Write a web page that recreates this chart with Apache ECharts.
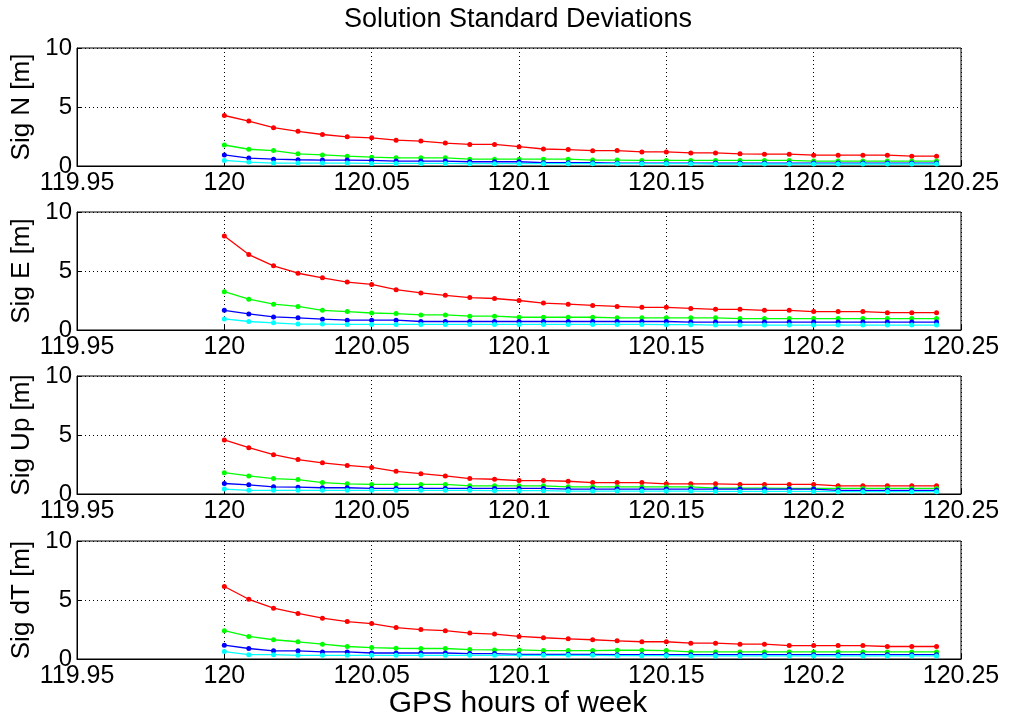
<!DOCTYPE html>
<html>
<head>
<meta charset="utf-8">
<script src="https://cdn.jsdelivr.net/npm/echarts@6/dist/echarts.min.js"></script>
<style>
  html, body { margin: 0; padding: 0; background: #fff; }
  #chart { width: 1009px; height: 721px; }
</style>
</head>
<body>
<div id="chart"></div>
<script>
// GPS hours of week (one epoch every 30 s)
const hours = [120, 120.0083, 120.0167, 120.025, 120.0333, 120.0417, 120.05, 120.0583, 120.0667, 120.075,
  120.0833, 120.0917, 120.1, 120.1083, 120.1167, 120.125, 120.1333, 120.1417, 120.15, 120.1583,
  120.1667, 120.175, 120.1833, 120.1917, 120.2, 120.2083, 120.2167, 120.225, 120.2333, 120.2417]

const panelNames = ['Sig N [m]', 'Sig E [m]', 'Sig Up [m]', 'Sig dT [m]']

// Sig N
const nRed = [4.28, 3.81, 3.25, 2.94, 2.67, 2.47, 2.39, 2.19, 2.11, 1.94, 1.83, 1.83, 1.64, 1.44, 1.39, 1.3, 1.31, 1.19, 1.19, 1.11, 1.11, 1.03, 1.0, 1.0, 0.92, 0.92, 0.92, 0.92, 0.83, 0.83]
const nGreen = [1.78, 1.42, 1.31, 1.03, 0.94, 0.83, 0.75, 0.69, 0.69, 0.69, 0.58, 0.58, 0.58, 0.58, 0.58, 0.5, 0.5, 0.47, 0.47, 0.47, 0.47, 0.47, 0.47, 0.47, 0.42, 0.42, 0.42, 0.42, 0.42, 0.42]
const nBlue = [0.94, 0.67, 0.58, 0.53, 0.5, 0.5, 0.47, 0.42, 0.42, 0.42, 0.36, 0.36, 0.36, 0.28, 0.28, 0.28, 0.25, 0.25, 0.25, 0.25, 0.25, 0.25, 0.25, 0.25, 0.25, 0.25, 0.25, 0.25, 0.25, 0.25]
const nCyan = [0.47, 0.33, 0.25, 0.25, 0.25, 0.25, 0.22, 0.22, 0.22, 0.22, 0.2, 0.2, 0.2, 0.2, 0.2, 0.2, 0.2, 0.2, 0.2, 0.2, 0.17, 0.17, 0.17, 0.17, 0.17, 0.17, 0.17, 0.17, 0.17, 0.17]

// Sig E
const eRed = [7.97, 6.39, 5.44, 4.81, 4.42, 4.06, 3.86, 3.42, 3.14, 2.94, 2.75, 2.67, 2.5, 2.28, 2.19, 2.08, 2.0, 1.92, 1.92, 1.83, 1.75, 1.75, 1.67, 1.67, 1.56, 1.56, 1.56, 1.47, 1.47, 1.47]
const eGreen = [3.25, 2.61, 2.19, 2.0, 1.67, 1.56, 1.44, 1.39, 1.28, 1.28, 1.17, 1.17, 1.08, 1.08, 1.08, 1.08, 1.03, 1.03, 1.03, 1.03, 1.03, 0.97, 0.97, 0.97, 0.97, 0.97, 0.97, 0.97, 0.97, 0.97]
const eBlue = [1.67, 1.36, 1.11, 1.03, 0.92, 0.83, 0.83, 0.83, 0.72, 0.72, 0.72, 0.72, 0.72, 0.72, 0.72, 0.72, 0.72, 0.72, 0.72, 0.67, 0.67, 0.67, 0.67, 0.67, 0.67, 0.67, 0.67, 0.67, 0.67, 0.67]
const eCyan = [0.94, 0.72, 0.61, 0.5, 0.5, 0.47, 0.47, 0.47, 0.47, 0.47, 0.47, 0.47, 0.47, 0.47, 0.47, 0.47, 0.47, 0.47, 0.45, 0.45, 0.42, 0.42, 0.42, 0.42, 0.42, 0.42, 0.42, 0.42, 0.42, 0.42]

// Sig Up
const uRed = [4.58, 3.92, 3.33, 2.92, 2.64, 2.42, 2.25, 1.92, 1.72, 1.53, 1.31, 1.25, 1.14, 1.14, 1.08, 0.97, 0.97, 0.97, 0.86, 0.86, 0.86, 0.81, 0.81, 0.81, 0.81, 0.69, 0.69, 0.69, 0.69, 0.69]
const uGreen = [1.81, 1.53, 1.31, 1.22, 0.97, 0.86, 0.81, 0.81, 0.81, 0.81, 0.69, 0.69, 0.69, 0.69, 0.61, 0.61, 0.6, 0.6, 0.6, 0.6, 0.5, 0.5, 0.5, 0.47, 0.47, 0.47, 0.47, 0.47, 0.47, 0.47]
const uBlue = [0.89, 0.78, 0.61, 0.58, 0.53, 0.53, 0.47, 0.47, 0.47, 0.47, 0.47, 0.47, 0.47, 0.47, 0.42, 0.42, 0.42, 0.42, 0.42, 0.42, 0.42, 0.42, 0.42, 0.42, 0.42, 0.31, 0.31, 0.31, 0.31, 0.31]
const uCyan = [0.42, 0.31, 0.31, 0.31, 0.31, 0.31, 0.31, 0.31, 0.31, 0.31, 0.31, 0.28, 0.28, 0.28, 0.25, 0.25, 0.25, 0.25, 0.25, 0.25, 0.22, 0.22, 0.22, 0.22, 0.22, 0.2, 0.2, 0.2, 0.2, 0.2]

// Sig dT
const dRed = [6.14, 5.06, 4.31, 3.86, 3.46, 3.17, 3.0, 2.66, 2.49, 2.4, 2.2, 2.11, 1.91, 1.8, 1.71, 1.63, 1.54, 1.46, 1.46, 1.34, 1.34, 1.26, 1.26, 1.14, 1.14, 1.14, 1.14, 1.06, 1.06, 1.06]
const dGreen = [2.4, 1.91, 1.63, 1.46, 1.26, 1.06, 0.97, 0.91, 0.89, 0.89, 0.8, 0.77, 0.77, 0.71, 0.71, 0.71, 0.74, 0.74, 0.71, 0.6, 0.6, 0.6, 0.6, 0.6, 0.6, 0.6, 0.6, 0.6, 0.6, 0.6]
const dBlue = [1.17, 0.89, 0.69, 0.69, 0.6, 0.6, 0.51, 0.51, 0.51, 0.51, 0.46, 0.46, 0.4, 0.4, 0.4, 0.4, 0.37, 0.37, 0.37, 0.37, 0.37, 0.37, 0.37, 0.37, 0.37, 0.37, 0.37, 0.37, 0.37, 0.37]
const dCyan = [0.63, 0.37, 0.37, 0.31, 0.31, 0.31, 0.31, 0.31, 0.31, 0.31, 0.31, 0.31, 0.31, 0.31, 0.31, 0.31, 0.28, 0.28, 0.28, 0.26, 0.26, 0.26, 0.26, 0.26, 0.26, 0.26, 0.26, 0.26, 0.26, 0.26]

const panels = [
  [nRed, nGreen, nBlue, nCyan],
  [eRed, eGreen, eBlue, eCyan],
  [uRed, uGreen, uBlue, uCyan],
  [dRed, dGreen, dBlue, dCyan]
]
const colors = ['#ff0000', '#00ff00', '#0000ff', '#00ffff']

const font = 'Liberation Sans, Arial, sans-serif'
const gridTops = [48, 212, 376, 541]

const chartInstance = echarts.init(document.getElementById('chart'))

const grids = []
const xAxes = []
const yAxes = []
const series = []

panels.forEach((lines, i) => {
  grids.push({
    left: 77,
    right: 48,
    top: gridTops[i],
    height: 118,
    show: true,
    borderColor: '#000',
    borderWidth: 1
  })
  xAxes.push({
    gridIndex: i,
    type: 'value',
    min: 119.95,
    max: 120.25,
    interval: 0.05,
    axisLine: { onZero: false, lineStyle: { color: '#000', width: 1 } },
    axisTick: { inside: true, length: 5, lineStyle: { color: '#000' } },
    axisLabel: {
      color: '#000',
      fontSize: 25,
      fontFamily: font,
      margin: 5,
      formatter: v => String(parseFloat(v.toFixed(2)))
    },
    splitLine: { show: true, lineStyle: { type: [1, 3], color: '#000', width: 1 } }
  })
  yAxes.push({
    gridIndex: i,
    type: 'value',
    min: 0,
    max: 10,
    interval: 5,
    name: panelNames[i],
    nameLocation: 'middle',
    nameGap: 38,
    nameTextStyle: { color: '#000', fontSize: 26, fontFamily: font },
    axisLine: { show: true, lineStyle: { color: '#000', width: 1 } },
    axisTick: { show: true, inside: true, length: 5, lineStyle: { color: '#000' } },
    axisLabel: { color: '#000', fontSize: 24, fontFamily: font, margin: 5 },
    splitLine: { show: true, lineStyle: { type: [1, 3], color: '#000', width: 1 } }
  })
  lines.forEach((vals, k) => {
    series.push({
      type: 'line',
      xAxisIndex: i,
      yAxisIndex: i,
      data: hours.map((h, j) => [h, vals[j]]),
      symbol: 'circle',
      symbolSize: 5,
      showSymbol: true,
      animation: false,
      lineStyle: { color: colors[k], width: 1.3 },
      itemStyle: { color: colors[k] },
      z: 3 + k
    })
  })
})

const option = {
  backgroundColor: '#fff',
  animation: false,
  grid: grids,
  xAxis: xAxes,
  yAxis: yAxes,
  series: series,
  graphic: [
    {
      type: 'text',
      x: 518,
      y: 20,
      style: { text: 'Solution Standard Deviations', fill: '#000', font: '27px ' + font, align: 'center', verticalAlign: 'middle' }
    },
    {
      type: 'text',
      x: 518,
      y: 704,
      style: { text: 'GPS hours of week', fill: '#000', font: '30px ' + font, align: 'center', verticalAlign: 'middle' }
    }
  ]
}
chartInstance.setOption(option)
</script>
</body>
</html>
